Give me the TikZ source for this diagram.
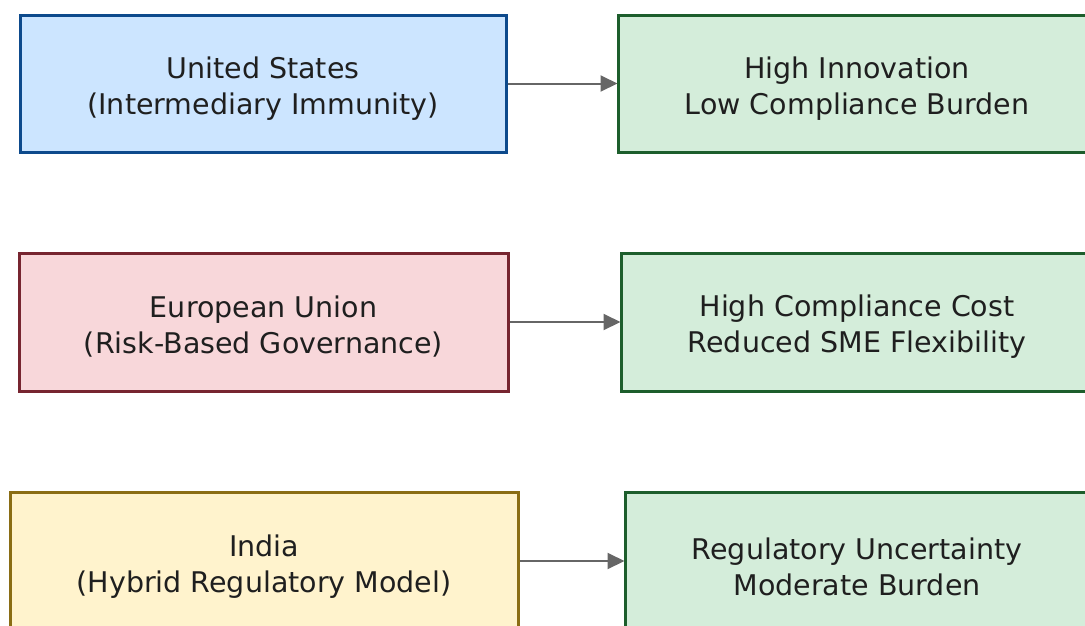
\documentclass[tikz,border=0pt]{standalone}
\usepackage{fontspec}
\setmainfont{DejaVu Sans}
\usetikzlibrary{arrows.meta}
\definecolor{bluefill}{HTML}{CCE5FF}
\definecolor{blueline}{HTML}{0D4A8C}
\definecolor{pinkfill}{HTML}{F8D7DA}
\definecolor{pinkline}{HTML}{772530}
\definecolor{yelfill}{HTML}{FFF3CD}
\definecolor{yelline}{HTML}{8A6D14}
\definecolor{grnfill}{HTML}{D4EDDA}
\definecolor{grnline}{HTML}{1D5E2C}
\definecolor{arrowgray}{HTML}{666666}
\tikzset{
  box/.style={draw, line width=3pt, inner sep=0pt},
  txt/.style={inner sep=0pt, align=center, font=\fontsize{28.5}{36}\selectfont, text=black!88},
  usbox/.style={box, fill=bluefill, draw=blueline},
  eubox/.style={box, fill=pinkfill, draw=pinkline},
  inbox/.style={box, fill=yelfill, draw=yelline},
  outbox/.style={box, fill=grnfill, draw=grnline},
  conn/.style={draw=arrowgray, line width=2pt, -{Triangle[length=17pt,width=16pt]}, shorten >=-1pt}
}
\begin{document}
\begin{tikzpicture}[x=1pt,y=-1pt]
\useasboundingbox (0,0) rectangle (1085,625);
\node[usbox, minimum width=486pt, minimum height=137pt] (us) at (263,83.5) {};
\node[outbox, minimum width=478pt, minimum height=137pt] (r1) at (857,83.5) {};
\node[eubox, minimum width=489pt, minimum height=138pt] (eu) at (263.5,322) {};
\node[outbox, minimum width=472pt, minimum height=138pt] (r2) at (857,322) {};
\node[inbox, minimum width=508pt, minimum height=138pt] (in) at (264,561) {};
\node[outbox, minimum width=464pt, minimum height=138pt] (r3) at (857,561) {};
\node[txt] (ust) at ([yshift=-5pt]us.center) {United States\\(Intermediary Immunity)};
\node[txt] (r1t) at ([yshift=-5pt]r1.center) {High Innovation\\Low Compliance Burden};
\node[txt] (eut) at ([yshift=-5pt]eu.center) {European Union\\(Risk-Based Governance)};
\node[txt] (r2t) at ([yshift=-5pt]r2.center) {High Compliance Cost\\Reduced SME Flexibility};
\node[txt] (int) at ([yshift=-5.5pt]in.center) {India\\(Hybrid Regulatory Model)};
\node[txt] (r3t) at ([yshift=-5.5pt]r3.center) {Regulatory Uncertainty\\Moderate Burden};
\draw[conn] (us.east) -- (r1.west);
\draw[conn] (eu.east) -- (r2.west);
\draw[conn] (in.east) -- (r3.west);
\end{tikzpicture}
\end{document}
